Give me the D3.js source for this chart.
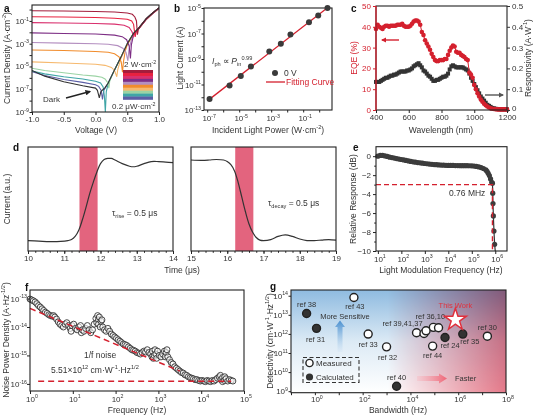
<!DOCTYPE html>
<html><head><meta charset="utf-8">
<script src="https://cdn.jsdelivr.net/npm/d3@7/dist/d3.min.js"></script>
<style>body{margin:0;background:#fff}svg{font-family:"Liberation Sans",Arial,Helvetica,sans-serif;display:block}</style>
</head><body><svg id="fig" width="535" height="417"></svg>
<script>
// ================= DATA =================
// (a) J-V curves, [voltage (V), log10 current density (A cm^-2)]
const aColors = ["#a31d3c","#e8213f","#d9306e","#7d2e85","#b48fc0","#f18c2c","#f6b96e","#9bd3a4","#3fa5a6","#5b5ea6"];
const aCurve1 = [[-1,-0.1],[-0.5,-0.13],[0,-0.17],[0.3,-0.22],[0.5,-0.3],[0.58,-0.42],[0.62,-0.65],[0.645,-1.0],[0.66,-2.2],[0.675,-1.75],[0.7,-1.5],[0.8,-0.8],[0.9,-0.3],[1.0,0.15]];
const aCurve2 = [[-1,-0.63],[-0.5,-0.66],[0,-0.7],[0.3,-0.76],[0.5,-0.85],[0.57,-1.0],[0.6,-1.3],[0.625,-2.4],[0.64,-1.95],[0.7,-1.52],[0.8,-0.82],[0.9,-0.32],[1.0,0.14]];
const aCurve3 = [[-1,-1.15],[-0.5,-1.18],[0,-1.22],[0.3,-1.28],[0.45,-1.38],[0.53,-1.58],[0.575,-1.95],[0.6,-2.35],[0.615,-2.1],[0.65,-1.85],[0.7,-1.55],[0.8,-0.84],[0.9,-0.33],[1.0,0.12]];
const aCurve4 = [[-1,-2.05],[-0.5,-2.1],[0,-2.15],[0.3,-2.25],[0.42,-2.38],[0.49,-2.65],[0.53,-3.2],[0.55,-4.3],[0.565,-3.1],[0.6,-2.2],[0.7,-1.55],[0.8,-0.85],[0.9,-0.34],[1.0,0.12]];
const aCurve5 = [[-1,-2.9],[-0.5,-2.95],[0,-3.0],[0.2,-3.05],[0.35,-3.17],[0.43,-3.4],[0.48,-3.75],[0.51,-4.5],[0.525,-3.6],[0.56,-2.75],[0.6,-2.2],[0.7,-1.55],[0.8,-0.86],[0.9,-0.35],[1.0,0.1]];
const aCurve6 = [[-1,-3.55],[-0.5,-3.6],[0,-3.68],[0.2,-3.75],[0.3,-3.88],[0.37,-4.15],[0.405,-4.6],[0.425,-5.5],[0.44,-4.6],[0.47,-3.6],[0.5,-3.1],[0.6,-2.15],[0.7,-1.55],[0.8,-0.85],[0.9,-0.35],[1.0,0.12]];
const aCurve7 = [[-1,-4.6],[-0.5,-4.7],[0,-4.8],[0.15,-4.9],[0.25,-5.08],[0.3,-5.35],[0.335,-5.9],[0.35,-5.3],[0.4,-4.3],[0.5,-3.05],[0.6,-2.15],[0.7,-1.55],[0.8,-0.85],[0.9,-0.35],[1.0,0.12]];
const aCurve8 = [[-1,-5.15],[-0.8,-5.35],[-0.5,-5.55],[-0.2,-5.75],[0,-5.85],[0.1,-5.95],[0.15,-6.1],[0.19,-6.4],[0.21,-6.9],[0.225,-6.25],[0.3,-5.3],[0.4,-4.2],[0.5,-3.0],[0.6,-2.1],[0.7,-1.5],[0.8,-0.8],[0.9,-0.3],[1.0,0.15]];
const aCurve9 = [[-1,-5.4],[-0.8,-5.65],[-0.5,-5.9],[-0.2,-6.1],[0,-6.3],[0.08,-6.45],[0.12,-6.8],[0.14,-7.6],[0.155,-9.0],[0.17,-7.2],[0.2,-6.5],[0.3,-5.3],[0.4,-4.2],[0.5,-3.0],[0.6,-2.1],[0.7,-1.5],[0.8,-0.8],[0.9,-0.3],[1.0,0.15]];
const aCurve10 = [[-1,-5.45],[-0.8,-5.8],[-0.5,-6.15],[-0.2,-6.4],[0,-6.6],[0.05,-6.75],[0.09,-7.1],[0.11,-7.9],[0.13,-7.1],[0.2,-6.45],[0.3,-5.3],[0.4,-4.2],[0.5,-3.0],[0.6,-2.1],[0.7,-1.5],[0.8,-0.8],[0.9,-0.3],[1.0,0.15]];
const aDark = [[-1,-5.35],[-0.8,-5.85],[-0.5,-6.35],[-0.2,-6.7],[0,-6.9],[0.03,-7.1],[0.06,-7.75],[0.085,-7.2],[0.15,-6.85],[0.2,-6.45],[0.3,-5.3],[0.4,-4.2],[0.5,-3.0],[0.6,-2.1],[0.7,-1.5],[0.8,-0.8],[0.9,-0.3],[1.0,0.15]];
const aXTicks = [-1,-0.5,0,0.5,1];
const aYExps = [-9,-7,-5,-3,-1];

// (b) light current vs power
const bPower = [1.4e-7,2.5e-6,1.26e-5,5.4e-5,7.6e-4,4.0e-3,1.6e-2,0.23,0.87,3.3];
const bCurrent = [7.2e-13,8.3e-12,4.6e-11,2.6e-10,3.8e-9,1.6e-8,8.3e-8,7.6e-7,2.6e-6,1.0e-5];
const bFitP = [1.3e-7,3.3];
const bFitI = [6.5e-13,1.05e-5];
const bXExps = [-7,-5,-3,-1];
const bYExps = [-13,-11,-9,-7,-5];

// (c) EQE and responsivity spectra
const cWave = [400,410,420,430,440,450,460,470,480,490,500,510,520,530,540,550,560,570,580,590,600,610,620,630,640,650,660,670,680,690,700,710,720,730,740,750,760,770,780,790,800,810,820,830,840,850,860,870,880,890,900,910,920,930,940,950,960,970,980,990,1000,1010,1020,1030,1040,1050,1060,1070,1080,1090,1100,1110,1120,1130,1140,1150,1160,1170,1180,1190,1200];
const cEQE = [39,41,40,39.5,39,40,40.5,40.5,40,40.5,40.5,40.5,40.5,41,41,41,41.5,40.5,40,40,40,40.5,41.5,42.5,43,43,42.5,41,37.5,36,33.5,32,30.5,29,27,25.5,24,23.5,23.5,24,24,24,24.5,24.5,26.5,28.5,30,31,30.5,28,27.5,27.5,26.5,26,25.5,24.5,24,18,17,15.5,12,10,8,6.5,5,4,3,2.3,1.7,1.2,0.8,0.6,0.5,0.4,0.3,0.3,0.3,0.3,0.3,0.3,0.3];
const cResp = [0.135,0.135,0.135,0.14,0.145,0.15,0.155,0.155,0.16,0.165,0.165,0.17,0.17,0.175,0.18,0.185,0.185,0.185,0.185,0.19,0.19,0.195,0.2,0.21,0.215,0.22,0.225,0.215,0.205,0.19,0.185,0.175,0.165,0.16,0.15,0.14,0.14,0.145,0.145,0.15,0.155,0.16,0.16,0.165,0.175,0.195,0.21,0.215,0.21,0.205,0.205,0.205,0.205,0.205,0.2,0.195,0.19,0.175,0.155,0.14,0.125,0.11,0.095,0.08,0.065,0.055,0.045,0.035,0.025,0.02,0.015,0.01,0.008,0.006,0.005,0.004,0.003,0.003,0.003,0.003,0.003];
const cXTicks = [400,600,800,1000,1200];
const cYLTicks = [0,10,20,30,40,50];
const cYRTicks = [0,0.1,0.2,0.3,0.4,0.5];

// (d) transient photocurrent, [time (us), normalized current]
const dRise = [[10,0.1],[10.3,0.095],[10.6,0.09],[10.9,0.092],[11.1,0.1],[11.2,0.11],[11.3,0.14],[11.4,0.2],[11.5,0.3],[11.6,0.42],[11.7,0.55],[11.8,0.66],[11.9,0.76],[12.0,0.84],[12.1,0.88],[12.2,0.89],[12.3,0.89],[12.4,0.875],[12.6,0.84],[12.8,0.815],[12.9,0.81],[13.0,0.815],[13.2,0.84],[13.4,0.86],[13.6,0.86],[13.8,0.855],[14.0,0.85]];
const dDecay = [[15,0.875],[15.3,0.872],[15.5,0.875],[15.7,0.88],[15.9,0.875],[16.0,0.86],[16.1,0.83],[16.2,0.77],[16.3,0.66],[16.4,0.52],[16.5,0.38],[16.6,0.26],[16.7,0.18],[16.8,0.13],[16.9,0.105],[17.0,0.1],[17.2,0.11],[17.4,0.14],[17.6,0.155],[17.8,0.14],[18.0,0.115],[18.2,0.1],[18.4,0.1],[18.6,0.105],[18.8,0.11],[19.0,0.105]];
const dRiseWin = [11.42,11.92];
const dDecayWin = [16.22,16.72];
const dTicksL = [10,11,12,13,14];
const dTicksR = [15,16,17,18,19];

// (e) frequency response
const eFreq = [10,12.6,15.8,20,25.1,31.6,39.8,50.1,63.1,79.4,100,126,158,200,251,316,398,501,631,794,1000,1260,1580,2000,2510,3160,3980,5010,6310,7940,1e4,1.26e4,1.58e4,2e4,2.51e4,3.16e4,3.98e4,5.01e4,6.31e4,7.94e4,1e5,1.26e5,1.58e5,2e5,2.51e5,3.16e5,3.98e5,4.47e5,5.01e5,5.62e5,6.31e5,7.08e5];
const eDB = [0,0.08,0.08,0.03,-0.03,-0.1,-0.15,-0.2,-0.25,-0.3,-0.35,-0.4,-0.45,-0.5,-0.55,-0.6,-0.63,-0.67,-0.7,-0.74,-0.77,-0.8,-0.83,-0.86,-0.88,-0.9,-0.92,-0.94,-0.95,-0.96,-0.97,-0.98,-0.98,-0.99,-0.99,-1.0,-1.0,-1.0,-1.0,-1.01,-1.02,-1.04,-1.08,-1.13,-1.2,-1.3,-1.45,-1.6,-1.8,-2.05,-2.4,-2.75];
const eTailF = [7.6e5,7.8e5,8.0e5,8.3e5,8.8e5,9.4e5];
const eTailDB = [-2.85,-3.9,-5.0,-6.3,-7.9,-9.3];
const eCut = 7.6e5;
const eYTicks = [0,-2,-4,-6,-8,-10];
const eXExps = [1,2,3,4,5,6];

// (f) noise spectrum, [log10 f (Hz), log10 noise (A Hz^-1/2)]
const fNoise = [[0.00,-13.02],[0.04,-13.05],[0.08,-13.08],[0.12,-13.12],[0.16,-13.18],[0.2,-13.25],[0.24,-13.3],[0.28,-13.36],[0.32,-13.42],[0.36,-13.48],[0.40,-13.52],[0.44,-13.57],[0.48,-13.6],[0.52,-13.62],[0.55,-13.6],[0.58,-13.65],[0.62,-13.72],[0.66,-13.82],[0.70,-13.9],[0.74,-13.95],[0.78,-14.0],[0.82,-13.9],[0.86,-13.85],[0.9,-13.95],[0.94,-14.05],[0.96,-14.15],[0.98,-13.95],[1.02,-13.9],[1.06,-14.05],[1.1,-14.1],[1.14,-14.0],[1.18,-13.95],[1.2,-14.2],[1.22,-14.1],[1.26,-14.15],[1.3,-14.05],[1.34,-13.95],[1.38,-14.1],[1.42,-14.2],[1.46,-14.1],[1.5,-13.9],[1.54,-13.7],[1.56,-13.85],[1.58,-13.6],[1.6,-13.75],[1.6,-13.9],[1.62,-13.65],[1.64,-14.0],[1.66,-13.8],[1.68,-13.75],[1.7,-14.0],[1.74,-14.1],[1.78,-14.15],[1.82,-14.05],[1.86,-14.15],[1.9,-14.25],[1.94,-14.3],[1.98,-14.35],[2.02,-14.4],[2.06,-14.45],[2.1,-14.5],[2.14,-14.55],[2.18,-14.6],[2.22,-14.62],[2.26,-14.65],[2.3,-14.7],[2.34,-14.75],[2.38,-14.8],[2.42,-14.82],[2.46,-14.85],[2.5,-14.9],[2.54,-14.92],[2.58,-14.95],[2.62,-14.9],[2.66,-14.85],[2.7,-14.88],[2.74,-14.8],[2.78,-14.9],[2.82,-14.95],[2.85,-15.05],[2.86,-14.85],[2.88,-15.1],[2.9,-15.0],[2.92,-14.8],[2.94,-14.95],[2.96,-15.1],[2.98,-14.85],[3.02,-15.0],[3.06,-15.05],[3.1,-14.95],[3.14,-14.85],[3.16,-15.05],[3.18,-14.9],[3.2,-14.8],[3.22,-15.05],[3.26,-15.15],[3.3,-15.25],[3.34,-15.3],[3.38,-15.4],[3.42,-15.45],[3.46,-15.5],[3.5,-15.55],[3.54,-15.6],[3.58,-15.62],[3.62,-15.68],[3.66,-15.7],[3.7,-15.75],[3.74,-15.78],[3.78,-15.8],[3.82,-15.82],[3.86,-15.85],[3.9,-15.85],[3.94,-15.88],[3.98,-15.9],[4.02,-15.88],[4.06,-15.9],[4.1,-15.92],[4.14,-15.88],[4.18,-15.9],[4.22,-15.92],[4.26,-15.88],[4.3,-15.9],[4.34,-15.85],[4.38,-15.8],[4.42,-15.75],[4.45,-15.7],[4.46,-15.85],[4.5,-15.78],[4.5,-15.92],[4.54,-15.88],[4.55,-15.75],[4.58,-15.82],[4.62,-15.9],[4.66,-15.85],[4.7,-15.88],[4.74,-15.9]];
const fFitF = [1,3.2e3];
const fFitN = [4.5e-14,2.8e-16];
const fFloorF = [1.55,5e4];
const fFloorN = 1.25e-16;
const fXExps = [0,1,2,3,4,5];
const fYExps = [-13,-14,-15,-16];

// (g) detectivity vs bandwidth benchmark
const gLabel = ["ref 38","ref 31","ref 43","ref 33","ref 32","ref 40","ref 39,41,37","","","ref 36,10","","ref 44","ref 24","ref 35","ref 30"];
const gBW = [0.45,1.17,43,170,1000,2630,1.8e4,3.7e4,4.5e4,9.1e4,1.5e5,8.5e4,2.8e5,1.55e6,1.66e7];
const gDet = [1.17e13,1.95e12,8.1e13,9.8e11,2.1e11,1.8e9,1.15e12,1.05e12,1.45e12,2.2e12,2.1e12,2.3e11,6.5e11,9.8e11,7.6e11];
const gType = ["calc","calc","meas","meas","meas","calc","meas","meas","meas","meas","meas","meas","calc","calc","meas"];
const gThisBW = 7.6e5, gThisDet = 5.51e12;
const gXExps = [0,2,4,6,8];
const gYExps = [9,10,11,12,13,14];

// ================= DRAWING =================
const svg = d3.select("#fig");
const TXT = "#333", AX = "#222", RED = "#d4202e";
const defs = svg.append("defs");
svg.append("rect").attr("width",535).attr("height",417).attr("fill","#fff");

function rich(x, y, parts, o = {}) {
  const size = o.size || 8.5;
  const t = svg.append("text").attr("x", x).attr("y", y).attr("font-size", size)
    .attr("fill", o.color || TXT).attr("text-anchor", o.anchor || "start");
  if (o.rotate) t.attr("transform", `rotate(${o.rotate},${x},${y})`);
  if (o.bold) t.attr("font-weight", "bold");
  let cur = 0;
  parts.forEach(p => {
    if (typeof p === "string") p = {t: p};
    const ts = t.append("tspan").text(p.t);
    const target = p.s === "sup" ? -0.42 * size : p.s === "sub" ? 0.28 * size : 0;
    if (target !== cur) { ts.attr("dy", target - cur); cur = target; }
    if (p.s) ts.attr("font-size", size * 0.66);
    if (p.i) ts.attr("font-style", "italic");
  });
  return t;
}
function frame(x0, y0, x1, y1) {
  svg.append("rect").attr("x", x0).attr("y", y0).attr("width", x1 - x0).attr("height", y1 - y0)
    .attr("fill", "none").attr("stroke", AX).attr("stroke-width", 1.1);
}
function axis(orient, scale, tx, ty, vals, o = {}) {
  const gen = {left: d3.axisLeft, right: d3.axisRight, bottom: d3.axisBottom}[orient](scale)
    .tickValues(vals).tickSize(o.size ?? 3).tickPadding(o.pad ?? 2).tickFormat(o.fmt || (() => ""));
  const g = svg.append("g").attr("transform", `translate(${tx},${ty})`).call(gen);
  g.attr("font-size", 8).attr("font-family", null);
  g.select(".domain").remove();
  g.selectAll(".tick line").attr("stroke", o.color || AX);
  g.selectAll(".tick text").attr("fill", o.color || TXT);
  return g;
}
function logLabels(scale, exps, orient, pos, o = {}) {
  exps.forEach(e => {
    const p = scale(Math.pow(10, e));
    const parts = ["10", {t: String(e), s: "sup"}];
    if (orient === "bottom") rich(p + 2, pos, parts, {anchor: "middle", size: 8, color: o.color});
    else rich(pos, p + 3, parts, {anchor: "end", size: 8, color: o.color});
  });
}
function arrowMarker(id, color) {
  defs.append("marker").attr("id", id).attr("viewBox", "0 0 10 10").attr("refX", 8).attr("refY", 5)
    .attr("markerWidth", 4).attr("markerHeight", 4).attr("orient", "auto")
    .append("path").attr("d", "M0,0L10,5L0,10z").attr("fill", color);
}
arrowMarker("arBlack", "#222"); arrowMarker("arRed", RED); arrowMarker("arGray", "#555");
const fmt1 = d => d.toFixed(1);

// ---------- (a) ----------
{
  const x = d3.scaleLinear([-1, 1], [32, 159]);
  const y = d3.scaleLog([1e-9, Math.pow(10, 0.4)], [112, 5]);
  const line = d3.line().x(d => x(d[0])).y(d => y(Math.pow(10, d[1])));
  const curves = [aCurve1,aCurve2,aCurve3,aCurve4,aCurve5,aCurve6,aCurve7,aCurve8,aCurve9,aCurve10];
  svg.append("clipPath").attr("id","clipA").append("rect").attr("x",32).attr("y",5).attr("width",127).attr("height",107);
  const g = svg.append("g").attr("clip-path","url(#clipA)");
  curves.slice().reverse().forEach((c, i) => {
    g.append("path").attr("d", line(c)).attr("fill","none").attr("stroke", aColors[9 - i]).attr("stroke-width", 1.1);
  });
  g.append("path").attr("d", line(aDark)).attr("fill","none").attr("stroke","#333").attr("stroke-width",1.1);
  frame(32, 5, 159, 112);
  axis("bottom", x, 0, 112, aXTicks, {fmt: fmt1, pad: 1.5});
  axis("left", y, 32, 0, d3.range(-9, 1).map(e => Math.pow(10, e)), {size: 2.5});
  logLabels(y, aYExps, "left", 29);
  const band = d3.scaleBand(d3.range(10), [70, 99.5]);
  svg.selectAll(".aband").data(aColors).join("rect").attr("x",123).attr("y",(d,i)=>band(i))
    .attr("width",30).attr("height",band.bandwidth()+0.3).attr("fill",d=>d);
  rich(124, 67, ["2 W·cm", {t:"-2", s:"sup"}], {size: 8});
  rich(112, 109, ["0.2 μW·cm", {t:"-2", s:"sup"}], {size: 8});
  rich(43, 102, ["Dark"], {size: 8});
  svg.append("line").attr("x1",66).attr("y1",98).attr("x2",90).attr("y2",91.5).attr("stroke","#222")
    .attr("stroke-width",1.4).attr("marker-end","url(#arBlack)");
  rich(96, 132.5, ["Voltage (V)"], {anchor:"middle"});
  rich(10, 58, ["Current Density (A·cm", {t:"-2", s:"sup"}, ")"], {anchor:"middle", rotate:-90});
  rich(4, 12, ["a"], {bold:true, size:10, color:"#111"});
}

// ---------- (b) ----------
{
  const x = d3.scaleLog([Math.pow(10,-7.2), Math.pow(10,0.8)], [204, 332]);
  const y = d3.scaleLog([1e-13, 1e-5], [110, 8]);
  frame(204, 8, 332, 110);
  axis("bottom", x, 0, 110, d3.range(-7, 1).map(e => Math.pow(10, e)), {size: 2.5});
  axis("left", y, 204, 0, d3.range(-13, -4).map(e => Math.pow(10, e)), {size: 2.5});
  logLabels(x, bXExps, "bottom", 121);
  logLabels(y, bYExps, "left", 201);
  svg.append("path").attr("d", d3.line()(bFitP.map((p,i)=>[x(p), y(bFitI[i])])))
    .attr("stroke", RED).attr("stroke-width",1.3).attr("fill","none");
  svg.selectAll(".bpt").data(bPower).join("circle").attr("cx", d=>x(d)).attr("cy",(d,i)=>y(bCurrent[i]))
    .attr("r",3).attr("fill","#3a3a3a");
  rich(212, 64, [{t:"I", i:true}, {t:"ph", s:"sub"}, " ∝ ", {t:"P", i:true}, {t:"in", s:"sub"}, {t:"0.99", s:"sup"}], {size: 8.5});
  svg.append("circle").attr("cx",275).attr("cy",73).attr("r",3).attr("fill","#3a3a3a");
  rich(284, 76, ["0 V"], {size:8.5});
  svg.append("line").attr("x1",266).attr("x2",285).attr("y1",82).attr("y2",82).attr("stroke",RED).attr("stroke-width",1.3);
  rich(286, 85, ["Fitting Curve"], {size:8.5, color: RED});
  rich(268, 132.5, ["Incident Light Power (W·cm", {t:"-2", s:"sup"}, ")"], {anchor:"middle"});
  rich(183, 58, ["Light Current (A)"], {anchor:"middle", rotate:-90});
  rich(174, 12, ["b"], {bold:true, size:10, color:"#111"});
}

// ---------- (c) ----------
{
  const x = d3.scaleLinear([400, 1200], [376, 507]);
  const yL = d3.scaleLinear([0, 50], [110, 6]);
  const yR = d3.scaleLinear([0, 0.5], [110, 6]);
  svg.append("path").attr("d", d3.line()(cWave.map((w,i)=>[x(w), yR(cResp[i])]))).attr("stroke","#333").attr("fill","none").attr("stroke-width",1);
  svg.selectAll(".csq").data(cWave).join("rect").attr("x", d=>x(d)-2).attr("y",(d,i)=>yR(cResp[i])-2)
    .attr("width",4).attr("height",4).attr("fill","#333");
  svg.append("path").attr("d", d3.line()(cWave.map((w,i)=>[x(w), yL(cEQE[i])]))).attr("stroke",RED).attr("fill","none").attr("stroke-width",1);
  svg.selectAll(".cci").data(cWave).join("circle").attr("cx", d=>x(d)).attr("cy",(d,i)=>yL(cEQE[i]))
    .attr("r",2.3).attr("fill",RED);
  frame(376, 6, 507, 110);
  svg.append("line").attr("x1",376).attr("x2",376).attr("y1",6).attr("y2",110).attr("stroke",RED).attr("stroke-width",1.3);
  axis("bottom", x, 0, 110, cXTicks, {fmt: d3.format("d"), pad: 1.5});
  axis("left", yL, 376, 0, cYLTicks, {fmt: d3.format("d"), color: RED});
  const rAx = axis("right", yR, 507, 0, cYRTicks, {fmt: d => d === 0 ? "0" : d.toFixed(1), color: "#333"});
  rAx.selectAll(".tick text").filter(d => d === 0).attr("dy", "0.05em");
  svg.append("line").attr("x1",399).attr("x2",382).attr("y1",40).attr("y2",40).attr("stroke",RED).attr("stroke-width",1.4).attr("marker-end","url(#arRed)");
  svg.append("line").attr("x1",485).attr("x2",503).attr("y1",95).attr("y2",95).attr("stroke","#555").attr("stroke-width",1.4).attr("marker-end","url(#arGray)");
  rich(441, 132.5, ["Wavelength (nm)"], {anchor:"middle"});
  rich(357, 58, ["EQE (%)"], {anchor:"middle", rotate:-90, color: RED});
  rich(531, 58, ["Responsivity (A·W", {t:"-1", s:"sup"}, ")"], {anchor:"middle", rotate:-90});
  rich(351, 12, ["c"], {bold:true, size:10, color:"#111"});
}

// ---------- (d) ----------
{
  const y = d3.scaleLinear([0, 1], [251, 147]);
  const xl = d3.scaleLinear([10, 14], [28, 173]);
  const xr = d3.scaleLinear([15, 19], [191, 336]);
  const pink = "#e3647e";
  svg.append("rect").attr("x", xl(dRiseWin[0])).attr("y",147).attr("width", xl(dRiseWin[1]) - xl(dRiseWin[0])).attr("height",104).attr("fill",pink);
  svg.append("rect").attr("x", xr(dDecayWin[0])).attr("y",147).attr("width", xr(dDecayWin[1]) - xr(dDecayWin[0])).attr("height",104).attr("fill",pink);
  svg.append("path").attr("d", d3.line().curve(d3.curveCatmullRom).x(d=>xl(d[0])).y(d=>y(d[1]))(dRise)).attr("fill","none").attr("stroke","#333").attr("stroke-width",1.2);
  svg.append("path").attr("d", d3.line().curve(d3.curveCatmullRom).x(d=>xr(d[0])).y(d=>y(d[1]))(dDecay)).attr("fill","none").attr("stroke","#333").attr("stroke-width",1.2);
  frame(28, 147, 173, 251);
  frame(191, 147, 336, 251);
  axis("bottom", xl, 0, 251, d3.range(10, 14.01, 0.2), {size: 1.8});
  axis("bottom", xr, 0, 251, d3.range(15, 19.01, 0.2), {size: 1.8});
  axis("bottom", xl, 0, 251, dTicksL, {fmt: d3.format("d"), pad: 1.5});
  axis("bottom", xr, 0, 251, dTicksR, {fmt: d3.format("d"), pad: 1.5});
  rich(112, 216, ["τ", {t:"rise", s:"sub"}, " = 0.5 μs"], {size: 8.5});
  rich(268, 206, ["τ", {t:"decay", s:"sub"}, " = 0.5 μs"], {size: 8.5});
  rich(182, 273, ["Time (μs)"], {anchor:"middle"});
  rich(10, 199, ["Current (a.u.)"], {anchor:"middle", rotate:-90});
  rich(13, 151, ["d"], {bold:true, size:10, color:"#111"});
}

// ---------- (e) ----------
{
  const x = d3.scaleLog([Math.pow(10, 0.92), Math.pow(10, 6.5)], [376, 507]);
  const y = d3.scaleLinear([-10, 1], [251, 146.7]);
  const allF = eFreq.concat(eTailF), allD = eDB.concat(eTailDB);
  svg.append("path").attr("d", d3.line()(allF.map((f,i)=>[x(f), y(allD[i])]).concat([[x(1.0e6), y(-10)]])))
    .attr("stroke","#333").attr("fill","none").attr("stroke-width",1.2);
  svg.selectAll(".ept").data(allF).join("circle").attr("cx", d=>x(d)).attr("cy",(d,i)=>y(allD[i]))
    .attr("r",2.6).attr("fill","#3c3c3c");
  svg.append("path").attr("d", d3.line()([[x(Math.pow(10,0.92)), y(-3)], [x(eCut), y(-3)], [x(eCut), y(-10)]]))
    .attr("fill","none").attr("stroke", RED).attr("stroke-width",1.4).attr("stroke-dasharray","5,3");
  frame(376, 146.7, 507, 251);
  axis("left", y, 376, 0, eYTicks, {fmt: d3.format("d")});
  axis("left", y, 376, 0, [-1,-3,-5,-7,-9], {size: 1.8});
  axis("bottom", x, 0, 251, eXExps.map(e => Math.pow(10, e)), {size: 3});
  logLabels(x, eXExps, "bottom", 261.5);
  rich(449, 196, ["0.76 MHz"], {size: 8.5});
  rich(441, 273, ["Light Modulation Frequency (Hz)"], {anchor:"middle"});
  rich(356, 199, ["Relative Response (dB)"], {anchor:"middle", rotate:-90});
  rich(353, 151, ["e"], {bold:true, size:10, color:"#111"});
}

// ---------- (f) ----------
{
  const x = d3.scaleLog([1, 1e5], [30, 244]);
  const y = d3.scaleLog([Math.pow(10, -16.25), Math.pow(10, -12.7)], [391, 290]);
  svg.selectAll(".fpt").data(fNoise).join("circle").attr("cx", d=>x(Math.pow(10,d[0]))).attr("cy", d=>y(Math.pow(10,d[1])))
    .attr("r",3).attr("fill","#fff").attr("fill-opacity",0.6).attr("stroke","#333").attr("stroke-width",0.9);
  svg.append("path").attr("d", d3.line()(fFitF.map((f,i)=>[x(f), y(fFitN[i])])))
    .attr("stroke", RED).attr("stroke-width",1.5).attr("stroke-dasharray","6,4").attr("fill","none");
  svg.append("path").attr("d", d3.line()(fFloorF.map(f=>[x(f), y(fFloorN)])))
    .attr("stroke", RED).attr("stroke-width",1.5).attr("stroke-dasharray","6,4").attr("fill","none");
  frame(30, 290, 244, 391);
  axis("bottom", x, 0, 391, fXExps.map(e => Math.pow(10, e)));
  axis("left", y, 30, 0, fYExps.map(e => Math.pow(10, e)));
  logLabels(x, fXExps, "bottom", 401.5);
  logLabels(y, fYExps, "left", 27);
  rich(84, 358, ["1/f noise"], {size: 8.5});
  rich(51, 373, ["5.51×10", {t:"12", s:"sup"}, " cm·W", {t:"-1", s:"sup"}, "·Hz", {t:"1/2", s:"sup"}], {size: 8.5});
  rich(137, 413, ["Frequency (Hz)"], {anchor:"middle"});
  rich(9, 340, ["Noise Power Density (A·Hz", {t:"-1/2", s:"sup"}, ")"], {anchor:"middle", rotate:-90});
  rich(25, 291, ["f"], {bold:true, size:10, color:"#111"});
}

// ---------- (g) ----------
{
  const x = d3.scaleLog([0.1, 1e8], [291, 506]);
  const y = d3.scaleLog([Math.pow(10, 8.92), Math.pow(10, 14.3)], [392.7, 290]);
  const gb = defs.append("linearGradient").attr("id","gBlue").attr("x1",0).attr("y1",0).attr("x2",0).attr("y2",1);
  gb.append("stop").attr("offset",0).attr("stop-color","#8fbbe0");
  gb.append("stop").attr("offset",0.5).attr("stop-color","#dceaf5");
  gb.append("stop").attr("offset",1).attr("stop-color","#ffffff");
  const gr = defs.append("linearGradient").attr("id","gRed").attr("x1",0).attr("y1",0).attr("x2",1).attr("y2",0);
  gr.append("stop").attr("offset",0.45).attr("stop-color","#ffffff");
  gr.append("stop").attr("offset",1).attr("stop-color","#e67a8a");
  svg.append("rect").attr("x",291).attr("y",290).attr("width",215).attr("height",102.7).attr("fill","url(#gBlue)");
  svg.append("rect").attr("x",291).attr("y",290).attr("width",215).attr("height",102.7).attr("fill","url(#gRed)").style("mix-blend-mode","multiply");
  const ab = defs.append("linearGradient").attr("id","gArB").attr("x1",0).attr("y1",1).attr("x2",0).attr("y2",0);
  ab.append("stop").attr("offset",0).attr("stop-color","#cfe3f4").attr("stop-opacity",0.3);
  ab.append("stop").attr("offset",1).attr("stop-color","#4a90d0");
  svg.append("path").attr("d","M337.5,352L342.5,352L342.5,327L345,327L340,320.5L335,327L337.5,327Z").attr("fill","url(#gArB)");
  const ar = defs.append("linearGradient").attr("id","gArR").attr("x1",0).attr("y1",0).attr("x2",1).attr("y2",0);
  ar.append("stop").attr("offset",0).attr("stop-color","#f6c0c8").attr("stop-opacity",0.5);
  ar.append("stop").attr("offset",1).attr("stop-color","#ef6677");
  svg.append("path").attr("d","M417,376L439,376L439,373.5L447,378.5L439,383.5L439,381L417,381Z").attr("fill","url(#gArR)");
  rich(345, 318.5, ["More Sensitive"], {anchor:"middle", size: 7.5});
  rich(455, 381, ["Faster"], {size: 7.5});
  const gOff = [[0,-7],[-1,13.5],[1,12],[0,12.5],[1,13.3],[0,-6.5],[-14,-7],[0,0],[0,0],[-3,-8.7],[0,0],[0,11.5],[5,11],[7,10],[0,-6]];
  gBW.forEach((b, i) => {
    const cx = x(b), cy = y(gDet[i]);
    svg.append("circle").attr("cx",cx).attr("cy",cy).attr("r",4)
      .attr("fill", gType[i] === "calc" ? "#333" : "#fff").attr("stroke","#222").attr("stroke-width",1.4);
    if (gLabel[i]) rich(cx + gOff[i][0], cy + gOff[i][1], [gLabel[i]], {anchor:"middle", size: 7.5});
  });
  svg.append("path").attr("d", d3.symbol(d3.symbolStar, 150)()).attr("transform",`translate(${x(gThisBW)},${y(gThisDet)})`)
    .attr("fill","#fff").attr("stroke","#e0303c").attr("stroke-width",1.5);
  rich(x(gThisBW), y(gThisDet) - 12, ["This Work"], {anchor:"middle", size: 7.5, color:"#e0303c"});
  svg.append("rect").attr("x",303).attr("y",357.5).attr("width",56).attr("height",25).attr("fill","none")
    .attr("stroke","#333").attr("stroke-width",1.1).attr("stroke-dasharray","4,2.5");
  svg.append("circle").attr("cx",309.5).attr("cy",363).attr("r",3.6).attr("fill","#fff").attr("stroke","#222").attr("stroke-width",1.4);
  svg.append("circle").attr("cx",309.5).attr("cy",377).attr("r",3.6).attr("fill","#333");
  rich(316, 366, ["Measured"], {size: 8});
  rich(316, 380, ["Calculated"], {size: 8});
  frame(291, 290, 506, 392.7);
  axis("bottom", x, 0, 392.7, d3.range(-1, 9).map(e => Math.pow(10, e)), {size: 2.5});
  axis("left", y, 291, 0, gYExps.map(e => Math.pow(10, e)), {size: 2.5});
  logLabels(x, gXExps, "bottom", 402);
  logLabels(y, gYExps, "left", 288);
  rich(398, 413, ["Bandwidth (Hz)"], {anchor:"middle"});
  rich(273, 341, ["Detectivity (cm·W", {t:"-1", s:"sup"}, "·Hz", {t:"1/2", s:"sup"}, ")"], {anchor:"middle", rotate:-90});
  rich(270, 290, ["g"], {bold:true, size:10, color:"#111"});
}
</script></body></html>
